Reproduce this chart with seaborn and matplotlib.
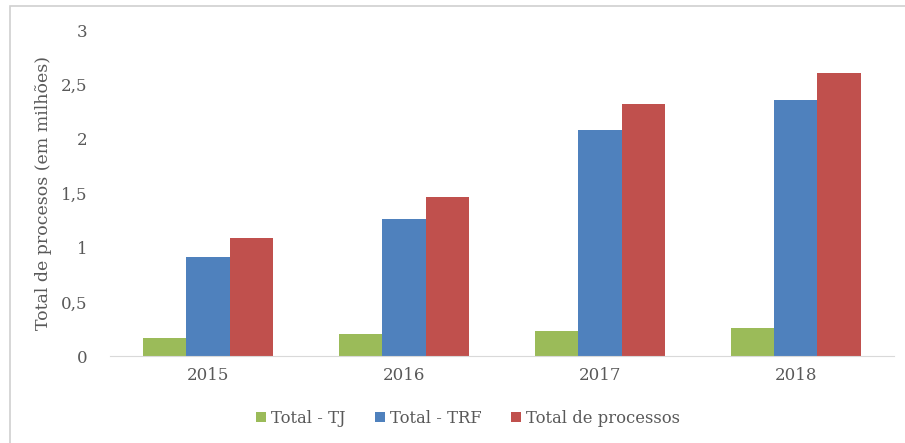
import pandas as pd
import matplotlib.pyplot as plt
import seaborn as sns
from matplotlib.patches import Rectangle

anos = ['2015', '2016', '2017', '2018']
total_tj = [0.17, 0.20, 0.23, 0.26]
total_trf = [0.91, 1.26, 2.08, 2.36]
total_processos = [1.09, 1.46, 2.32, 2.61]
series = ['Total - TJ', 'Total - TRF', 'Total de processos']
cores = ['#9BBB59', '#4F81BD', '#C0504D']

data = pd.DataFrame({
    'Ano': anos * 3,
    'Valor': total_tj + total_trf + total_processos,
    'Serie': [s for s in series for _ in anos],
})

sns.set_style('white')
plt.rcParams['font.family'] = ['DejaVu Serif']
cinza = '#595959'

fig = plt.figure(figsize=(9.05, 4.43), dpi=100)
ax = fig.add_axes([0.1215, 0.196, 0.866, 0.736])
sns.barplot(data=data, x='Ano', y='Valor', hue='Serie', palette=cores,
            width=0.665, saturation=1, ax=ax, legend=True, linewidth=0)

ax.set_ylim(0, 3)
ax.set_yticks([0, 0.5, 1, 1.5, 2, 2.5, 3])
ax.set_yticklabels(['0', '0,5', '1', '1,5', '2', '2,5', '3'])
ax.set_xlim(-0.5, 3.5)
ax.set_xlabel('')
ax.set_ylabel('Total de procesos (em milhões)', color=cinza, fontsize=12.5, labelpad=7)
ax.tick_params(axis='both', colors=cinza, labelsize=12, length=0)
ax.tick_params(axis='y', pad=16)
ax.tick_params(axis='x', pad=8)
for s in ['left', 'right', 'top']:
    ax.spines[s].set_visible(False)
ax.spines['bottom'].set_color('#d9d9d9')

ax.legend(loc='upper center', bbox_to_anchor=(0.457, -0.12), ncol=3, frameon=False,
          fontsize=11.8, labelcolor=cinza, handlelength=0.6, handleheight=0.6,
          handletextpad=0.3, columnspacing=1.8)

fig.patches.append(Rectangle((0.011, -0.01), 1.0, 0.997, transform=fig.transFigure,
                             fill=False, edgecolor='#d0d0d0', linewidth=1.2))

plt.savefig('out.png', dpi=100)
